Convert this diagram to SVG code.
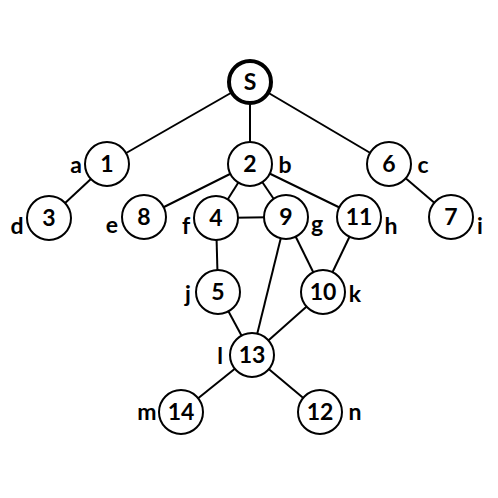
<svg xmlns="http://www.w3.org/2000/svg" width="498" height="498" viewBox="0 0 498 498">
<style>
.e{stroke:#000;stroke-width:2;fill:none}
.n circle{fill:#fff;stroke:#000;stroke-width:2}
.n text,.l{font-family:Lato,"Liberation Sans",sans-serif;font-weight:bold;font-size:23px;fill:#000}
.n text{text-anchor:middle}
.l{text-anchor:middle}
</style>
<rect width="498" height="498" fill="#fff"/>
<g id="connectors">
<line class="e" x1="250" y1="82" x2="107" y2="164"/>
<line class="e" x1="250" y1="82" x2="250" y2="164"/>
<line class="e" x1="250" y1="82" x2="389" y2="164"/>
<line class="e" x1="107" y1="164" x2="49" y2="218"/>
<line class="e" x1="250" y1="164" x2="144" y2="217"/>
<line class="e" x1="250" y1="164" x2="216" y2="218"/>
<line class="e" x1="250" y1="164" x2="286" y2="217"/>
<line class="e" x1="250" y1="164" x2="359" y2="217"/>
<line class="e" x1="389" y1="164" x2="451" y2="217"/>
<line class="e" x1="216" y1="218" x2="286" y2="217"/>
<line class="e" x1="216" y1="218" x2="218" y2="292"/>
<line class="e" x1="286" y1="217" x2="323" y2="292"/>
<line class="e" x1="286" y1="217" x2="252" y2="355"/>
<line class="e" x1="359" y1="217" x2="323" y2="292"/>
<line class="e" x1="218" y1="292" x2="252" y2="355"/>
<line class="e" x1="323" y1="292" x2="252" y2="355"/>
<line class="e" x1="252" y1="355" x2="181" y2="412"/>
<line class="e" x1="252" y1="355" x2="320" y2="412"/>
</g>
<g id="nS" class="n"><circle cx="250" cy="82" r="21" style="stroke-width:4"/><text x="250" y="90">S</text></g>
<g id="n1" class="n"><circle cx="107" cy="164" r="22"/><text x="107" y="172">1</text></g>
<g id="n2" class="n"><circle cx="250" cy="164" r="22"/><text x="250" y="172">2</text></g>
<g id="n6" class="n"><circle cx="389" cy="164" r="22"/><text x="389" y="172">6</text></g>
<g id="n3" class="n"><circle cx="49" cy="218" r="22"/><text x="49" y="226">3</text></g>
<g id="n8" class="n"><circle cx="144" cy="217" r="22"/><text x="144" y="225">8</text></g>
<g id="n4" class="n"><circle cx="216" cy="218" r="22"/><text x="216" y="226">4</text></g>
<g id="n9" class="n"><circle cx="286" cy="217" r="22"/><text x="286" y="225">9</text></g>
<g id="n11" class="n"><circle cx="359" cy="217" r="22"/><text x="359" y="225">11</text></g>
<g id="n7" class="n"><circle cx="451" cy="217" r="22"/><text x="451" y="225">7</text></g>
<g id="n5" class="n"><circle cx="218" cy="292" r="22"/><text x="218" y="300">5</text></g>
<g id="n10" class="n"><circle cx="323" cy="292" r="22"/><text x="323" y="300">10</text></g>
<g id="n13" class="n"><circle cx="252" cy="355" r="22"/><text x="252" y="363">13</text></g>
<g id="n14" class="n"><circle cx="181" cy="412" r="22"/><text x="181" y="420">14</text></g>
<g id="n12" class="n"><circle cx="320" cy="412" r="22"/><text x="320" y="420">12</text></g>
<g id="labels">
<text class="l" x="76" y="173">a</text>
<text class="l" x="285" y="173">b</text>
<text class="l" x="423" y="173">c</text>
<text class="l" x="17" y="234">d</text>
<text class="l" x="112" y="233">e</text>
<text class="l" x="186" y="234">f</text>
<text class="l" x="317" y="232">g</text>
<text class="l" x="391" y="234">h</text>
<text class="l" x="480" y="234">i</text>
<text class="l" x="188" y="302">j</text>
<text class="l" x="355" y="302">k</text>
<text class="l" x="220" y="364">l</text>
<text class="l" x="147" y="420">m</text>
<text class="l" x="355" y="420">n</text>
</g>
</svg>
